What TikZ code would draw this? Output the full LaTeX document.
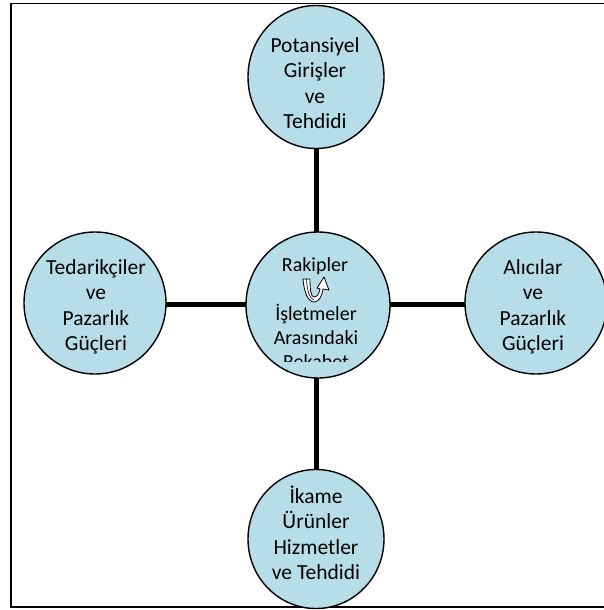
\documentclass[tikz,border=0pt]{standalone}
\usepackage{fontspec}
\setmainfont{Carlito}
\usetikzlibrary{shapes.geometric}
\definecolor{aqua}{RGB}{183,222,232}
\begin{document}
\begin{tikzpicture}[x=1pt,y=-1pt,
  force/.style={ellipse,draw=black,line width=1.4pt,fill=aqua,inner sep=0pt},
  forcetext/.style={align=center,font=\fontsize{21.5}{25.5}\selectfont,text=black},
  midfont/.style={align=center,font=\fontsize{20}{24}\selectfont,text=black},
  link/.style={line width=5pt,black}]
\useasboundingbox (0,0) rectangle (603,610);
% outer frame
\draw[line width=1.6pt] (11,3.5) -- (606,3.5) (11,3.5) -- (11,607) -- (606,607);
% connector lines (drawn first, circles on top)
\coordinate (vt) at (316,140);
\coordinate (vb) at (316,480);
\coordinate (hl) at (160,304);
\coordinate (hr) at (470,304);
\draw[link] (vt) -- (vb);
\draw[link] (hl) -- (hr);
% five forces
\node[force,minimum width=136,minimum height=143] (top) at (316,77) {};
\node[force,minimum width=142,minimum height=142] (left) at (95,303) {};
\node[force,minimum width=142,minimum height=142] (right) at (536,303) {};
\node[force,minimum width=136,minimum height=139] (bottom) at (316,539) {};
\node[force,minimum width=144,minimum height=146] (mid) at (318,305) {};
% labels
\node[forcetext] (toptext) at (315,83) {Potansiyel\\Girişler\\ve\\Tehdidi};
\node[forcetext] (lefttext) at (96,307) {Tedarikçiler\\ve\\Pazarlık\\Güçleri};
\node[forcetext] (righttext) at (533,307) {Alıcılar\\ve\\Pazarlık\\Güçleri};
\node[forcetext] (bottomtext) at (316,533) {İkame\\Ürünler\\Hizmetler\\ve Tehdidi};
\node[midfont] (midtop) at (315,266) {Rakipler};
% the text box of the centre circle cuts off its last line
\begin{scope}
  \clip (240,240) rectangle (395,361);
  \node[midfont] (midtext) at (316,336) {İşletmeler\\Arasındaki\\Rekabet};
\end{scope}
% U-turn arrow between the words
\begin{scope}[shift={(3,0)}]
\draw[line width=0.8pt,fill=white,line join=round]
  (300,279) .. controls (301,292) and (305,302) .. (311,302)
  .. controls (316,302) and (319,296) .. (320,289)
  -- (326,290) -- (321,277) -- (314,288) -- (317,289)
  .. controls (316,294) and (314,297) .. (311,297)
  .. controls (308,297) and (307,290) .. (307,279) -- cycle;
\draw[line width=0.6pt] (303.5,279) .. controls (304,291) and (307,299) .. (311,300);
\end{scope}
\end{tikzpicture}
\end{document}
